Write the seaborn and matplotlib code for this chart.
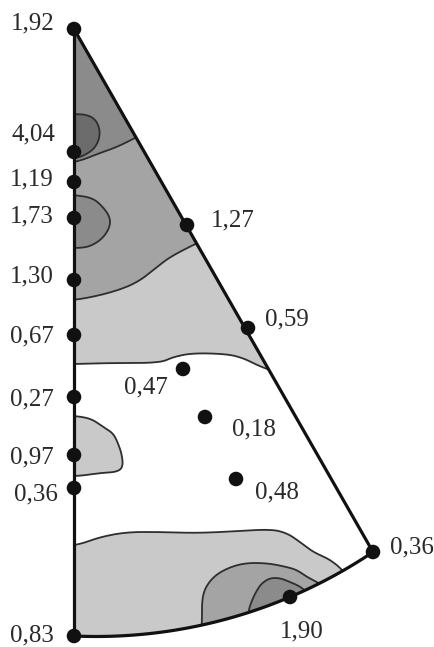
import numpy as np
import pandas as pd
import matplotlib
matplotlib.use("Agg")
import matplotlib.pyplot as plt
from matplotlib.patches import Polygon
import seaborn as sns

sns.set_theme(style="white")
plt.rcParams["font.family"] = ["Liberation Serif", "DejaVu Serif"]

# Corners of the projected standard triangle (projection units, y downward)
apex = (74, 29)
corner_left = (74, 636)
corner_right = (373, 552)
arc_through = (290, 597)

# Measured pole intensities and their positions in the projection
edge_values = [1.92, 4.04, 1.19, 1.73, 1.30, 0.67, 0.27, 0.97, 0.36, 0.83]
edge_x = [74, 74, 74, 74, 74, 74, 74, 74, 74, 74]
edge_y = [29, 152, 182, 218, 280, 335, 397, 455, 488, 636]

side_values = [1.27, 0.59, 0.36]
side_x = [187, 248, 373]
side_y = [225, 328, 552]

inner_values = [0.47, 0.18, 0.48]
inner_x = [183, 205, 236]
inner_y = [369, 417, 479]

arc_values = [1.90]
arc_x = [290]
arc_y = [597]

# Iso-intensity lines (level index: 1 lightest ... 4 darkest)
iso_top_3 = [(60, 163), (77, 162), (100, 153), (117, 147), (135, 138), (150, 130)]
iso_top_4 = [(60, 114), (77, 114), (88, 115), (96, 120), (100, 130), (99, 140),
             (94, 149), (85, 155), (77, 158), (60, 158)]
iso_mid_2 = [(60, 300), (77, 300), (110, 293), (137, 283), (157, 267), (170, 257),
             (193, 245), (215, 235)]
iso_mid_3 = [(60, 195), (75, 195), (93, 198), (103, 207), (110, 217), (110, 227),
             (103, 238), (93, 245), (83, 248), (60, 248)]
iso_mid_1 = [(60, 364), (77, 364), (110, 363), (160, 363), (173, 357), (193, 353),
             (227, 354), (243, 358), (257, 365), (267, 369), (290, 378)]
iso_left_1 = [(60, 416), (77, 416), (92, 419), (103, 427), (113, 433), (118, 443),
              (122, 455), (123, 467), (117, 472), (100, 473), (80, 476), (60, 476)]
iso_low_1 = [(60, 546), (78, 545), (100, 537), (127, 532), (160, 532), (193, 533),
             (223, 532), (270, 529), (287, 533), (300, 542), (313, 552), (327, 558),
             (337, 565), (342, 570), (350, 578)]
iso_low_2 = [(201, 640), (202, 622), (202, 595), (210, 580), (223, 570), (243, 563),
             (267, 563), (287, 567), (297, 570), (307, 577), (317, 582), (330, 590)]
iso_low_3 = [(247, 640), (248, 612), (252, 600), (257, 590), (262, 583), (270, 578),
             (280, 578), (290, 582), (297, 585), (302, 588), (312, 596)]

level_colors = {1: "#c9c9c9", 2: "#a4a4a4", 3: "#8b8b8b", 4: "#6c6c6c"}
line_color = "#2e2e2e"


def circle_arc(p0, p1, p2, n=120):
    """Great-circle arc drawn as the circle through three points."""
    (x1, y1), (x2, y2), (x3, y3) = p0, p1, p2
    d = 2 * (x1 * (y2 - y3) + x2 * (y3 - y1) + x3 * (y1 - y2))
    ux = ((x1**2 + y1**2) * (y2 - y3) + (x2**2 + y2**2) * (y3 - y1) + (x3**2 + y3**2) * (y1 - y2)) / d
    uy = ((x1**2 + y1**2) * (x3 - x2) + (x2**2 + y2**2) * (x1 - x3) + (x3**2 + y3**2) * (x2 - x1)) / d
    r = np.hypot(x1 - ux, y1 - uy)
    a0 = np.arctan2(y1 - uy, x1 - ux)
    a1 = np.arctan2(y3 - uy, x3 - ux)
    t = np.linspace(a0, a1, n)
    return np.column_stack([ux + r * np.cos(t), uy + r * np.sin(t)])


def smooth(line, passes=4):
    """Chaikin corner cutting, keeping the two end points."""
    p = np.asarray(line, dtype=float)
    for _ in range(passes):
        q = 0.75 * p[:-1] + 0.25 * p[1:]
        r = 0.25 * p[:-1] + 0.75 * p[1:]
        mid = np.empty((2 * len(q), 2))
        mid[0::2] = q
        mid[1::2] = r
        p = np.vstack([p[:1], mid, p[-1:]])
    return p


fig = plt.figure(figsize=(4.35, 6.47), dpi=100)
ax = fig.add_axes([0, 0, 1, 1])
ax.set_xlim(0, 435)
ax.set_ylim(647, 0)
ax.set_axis_off()

arc = circle_arc(corner_left, arc_through, corner_right)
outline = np.vstack([[apex], arc, [apex]])
clip = Polygon(outline, closed=True, facecolor="none", edgecolor="none",
               transform=ax.transData)
ax.add_patch(clip)


def region(line, closing, level):
    curve = smooth(line)
    pts = np.vstack([curve, np.array(closing, dtype=float).reshape(-1, 2)])
    patch = Polygon(pts, closed=True, facecolor=level_colors[level],
                    edgecolor="none", zorder=1)
    ax.add_patch(patch)
    patch.set_clip_path(clip)
    ln, = ax.plot(curve[:, 0], curve[:, 1], color=line_color, lw=1.3, zorder=2,
                  solid_capstyle="round", solid_joinstyle="round")
    ln.set_clip_path(clip)


# filled bands, lightest first
region(iso_mid_1, [(290, 0), (60, 0)], 1)
region(iso_left_1, [], 1)
region(iso_low_1, [(350, 660), (60, 660)], 1)
region(iso_mid_2, [(215, 0), (60, 0)], 2)
region(iso_low_2, [(330, 660), (201, 660)], 2)
region(iso_top_3, [(150, 0), (60, 0)], 3)
region(iso_mid_3, [], 3)
region(iso_low_3, [(312, 660), (247, 660)], 3)
region(iso_top_4, [], 4)

# triangle outline
ax.plot([apex[0], corner_left[0]], [apex[1], corner_left[1]], color="#111111",
        lw=2.3, zorder=3, solid_capstyle="round")
ax.plot([apex[0], corner_right[0]], [apex[1], corner_right[1]], color="#111111",
        lw=2.3, zorder=3, solid_capstyle="round")
ax.plot(arc[:, 0], arc[:, 1], color="#111111", lw=2.3, zorder=3,
        solid_capstyle="round")

poles = pd.DataFrame({
    "x": edge_x + side_x + inner_x + arc_x,
    "y": edge_y + side_y + inner_y + arc_y,
    "value": edge_values + side_values + inner_values + arc_values,
})
sns.scatterplot(data=poles, x="x", y="y", color="#111111", s=110,
                edgecolor="none", ax=ax, legend=False, zorder=4)

# label placement (pixel offsets from each pole, alignment)
label_style = (
    [(-19, 0, "right"), (-19, 12, "right"), (-20, -3, "right"), (-20, -4, "right"),
     (-20, -2, "right"), (-20, -7, "right"), (-20, -8, "right"), (-20, -8, "right"),
     (-16, -12, "right"), (-20, -5, "right")]
    + [(24, -1, "left"), (17, 3, "left"), (17, -1, "left")]
    + [(-15, -24, "right"), (27, -18, "left"), (19, -19, "left")]
    + [(-10, -40, "left")]
)

for (px, py, val), (dx, dy, ha) in zip(poles[["x", "y", "value"]].to_numpy(), label_style):
    ax.annotate(f"{val:.2f}".replace(".", ","), (px, py), xytext=(dx, dy),
                textcoords="offset pixels", ha=ha, va="baseline",
                fontsize=18, color="#2a2a2a", zorder=5)

fig.savefig("out.png", dpi=100, facecolor="white")
